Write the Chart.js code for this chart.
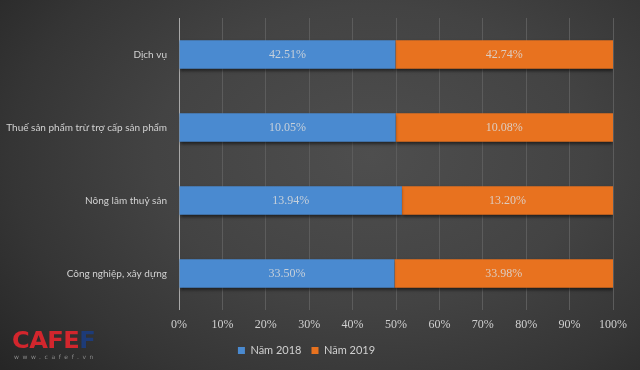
<!DOCTYPE html>
<html lang="vi">
<head>
<meta charset="utf-8">
<script src="https://cdn.jsdelivr.net/npm/chart.js@4.4.1/dist/chart.umd.min.js"></script>
<style>
    html, body {
        margin: 0;
        padding: 0;
    }
    body {
        width: 640px;
        height: 370px;
        overflow: hidden;
        background: radial-gradient(ellipse 75% 90% at 58% 42%, #4e4e4e 0%, #434343 45%, #353535 75%, #262626 100%);
    }
    #wrap {
        position: relative;
        width: 640px;
        height: 370px;
    }
    .logo {
        position: absolute;
        left: 12px;
        top: 329px;
        font-family: "DejaVu Sans", sans-serif;
        font-weight: bold;
        font-size: 23px;
        line-height: 23px;
        letter-spacing: -0.5px;
        transform: scaleX(1.05);
        transform-origin: left top;
    }
    .logo .r { color: #d2262d; }
    .logo .b { color: #1d3b78; }
    .logo-sub {
        position: absolute;
        left: 14px;
        top: 353px;
        font-family: "DejaVu Sans", sans-serif;
        font-size: 6px;
        letter-spacing: 3.6px;
        color: #8a8a8a;
    }
</style>
</head>
<body>
<div id="wrap">
    <canvas id="gdpChart" width="640" height="370"></canvas>
    <div class="logo"><span class="r">CAFE</span><span class="b">F</span></div>
    <div class="logo-sub">www.cafef.vn</div>
</div>

<script>
    // du lieu
    var categories = ['Dịch vụ', 'Thuế sản phẩm trừ trợ cấp sản phẩm', 'Nông lâm thuỷ sản', 'Công nghiệp, xây dựng'];
    var seriesNames = ['Năm 2018', 'Năm 2019'];
    var values2018 = [42.51, 10.05, 13.94, 33.50];
    var values2019 = [42.74, 10.08, 13.20, 33.98];
    var xTicks = [0, 10, 20, 30, 40, 50, 60, 70, 80, 90, 100];

    // 100% stacked: share of each year in the row
    var share2018 = values2018.map(function (v, i) { return v / (v + values2019[i]) * 100; });
    var share2019 = values2019.map(function (v, i) { return v / (values2018[i] + v) * 100; });
    var rawValues = [values2018, values2019];

    var barLabels = {
        id: 'barLabels',
        afterDatasetsDraw: function (chart) {
            var ctx = chart.ctx;
            ctx.save();
            ctx.font = '12px "Liberation Serif", "Times New Roman", serif';
            ctx.fillStyle = 'rgba(220,220,220,0.85)';
            ctx.textAlign = 'center';
            ctx.textBaseline = 'middle';
            chart.data.datasets.forEach(function (ds, di) {
                chart.getDatasetMeta(di).data.forEach(function (bar, i) {
                    var cx = (bar.x + bar.base) / 2;
                    ctx.fillText(rawValues[di][i].toFixed(2) + '%', cx, bar.y);
                });
            });
            ctx.restore();
        }
    };

    var barShadow = {
        id: 'barShadow',
        beforeDatasetsDraw: function (chart) {
            var ctx = chart.ctx;
            ctx.save();
            ctx.shadowColor = 'rgba(0,0,0,0.55)';
            ctx.shadowBlur = 3;
            ctx.shadowOffsetY = 2;
        },
        afterDatasetsDraw: function (chart) {
            chart.ctx.restore();
        }
    };

    function barGradient(top, bottom) {
        return function (context) {
            var el = context.element;
            if (!el || el.y === undefined) return bottom;
            var g = context.chart.ctx.createLinearGradient(0, el.y - el.height / 2, 0, el.y + el.height / 2);
            g.addColorStop(0, top);
            g.addColorStop(1, bottom);
            return g;
        };
    }

    var ctx = document.getElementById('gdpChart').getContext('2d');
    var chart = new Chart(ctx, {
        type: 'bar',
        data: {
            labels: categories,
            datasets: [{
                label: seriesNames[0],
                data: share2018,
                backgroundColor: barGradient('#63a5e3', '#4a8ad0'),
                borderWidth: 0
            }, {
                label: seriesNames[1],
                data: share2019,
                backgroundColor: barGradient('#f28c4a', '#e8721f'),
                borderWidth: 0
            }]
        },
        plugins: [barShadow, barLabels],
        options: {
            indexAxis: 'y',
            responsive: false,
            animation: false,
            categoryPercentage: 0.8,
            barPercentage: 0.49,
            layout: {
                padding: { left: 0, right: 27, top: 11, bottom: 4 }
            },
            scales: {
                x: {
                    stacked: true,
                    min: 0,
                    max: 100,
                    afterBuildTicks: function (scale) {
                        scale.ticks = xTicks.map(function (v) { return { value: v }; });
                    },
                    afterFit: function (scale) { scale.height = 25; },
                    border: { display: false },
                    grid: {
                        drawTicks: false,
                        color: function (c) { return c.tick && c.tick.value === 0 ? '#a8a8a8' : '#5c5c5c'; },
                        lineWidth: 1
                    },
                    ticks: {
                        padding: 8,
                        color: '#d0d0d0',
                        font: { family: '"Liberation Serif", "Times New Roman", serif', size: 12 },
                        callback: function (v) { return v + '%'; }
                    }
                },
                y: {
                    stacked: true,
                    afterFit: function (scale) { scale.width = 179; },
                    border: { display: false },
                    grid: { display: false, drawTicks: false },
                    ticks: {
                        padding: 12,
                        color: '#d2d2d2',
                        font: { family: 'Lato, "Liberation Sans", sans-serif', size: 10 }
                    }
                }
            },
            plugins: {
                legend: {
                    position: 'bottom',
                    labels: {
                        boxWidth: 7,
                        boxHeight: 7,
                        padding: 10,
                        color: '#d0d0d0',
                        font: { family: 'Lato, "Liberation Sans", sans-serif', size: 11 }
                    }
                },
                tooltip: { enabled: false }
            }
        }
    });
</script>
</body>
</html>
